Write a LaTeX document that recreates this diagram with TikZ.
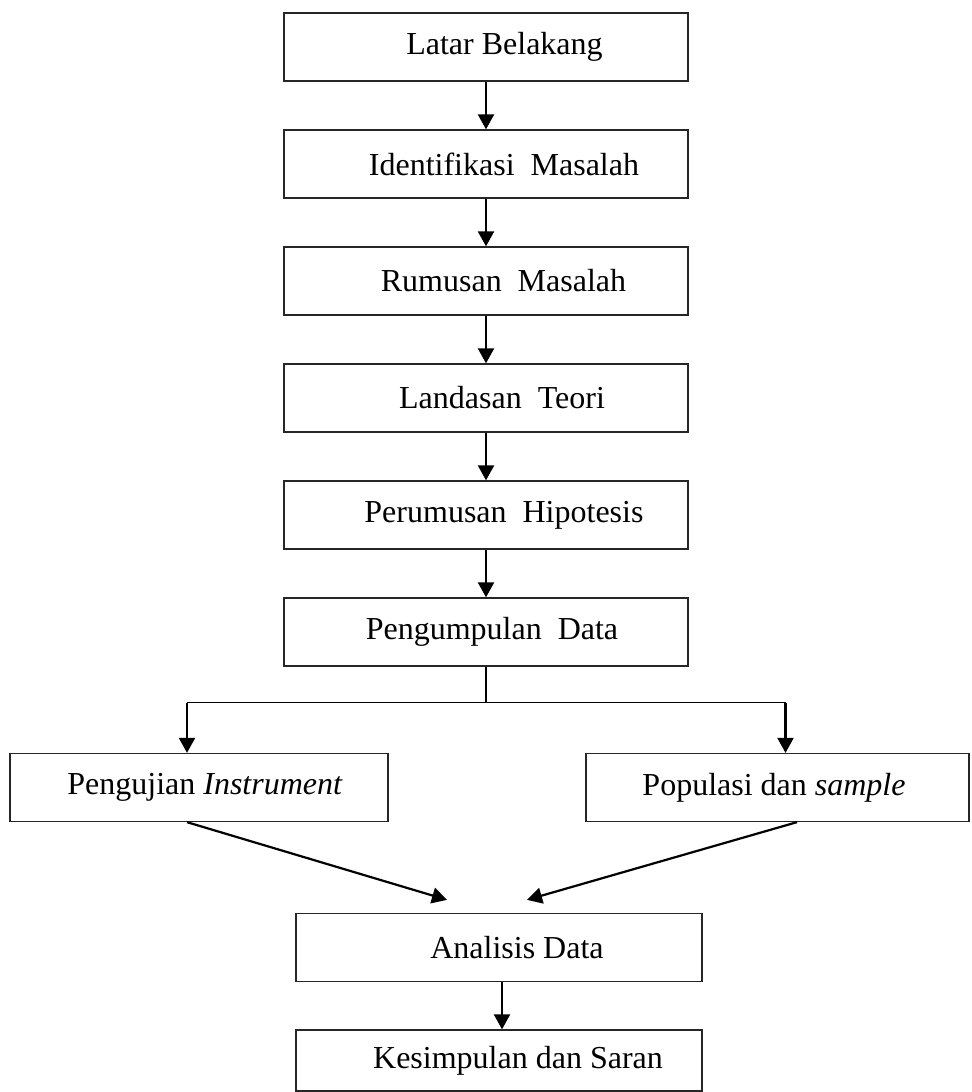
\documentclass[tikz,border=0pt]{standalone}
\usepackage{fontspec}
\setmainfont{Liberation Serif}
\usetikzlibrary{arrows.meta,positioning}
\newcommand{\widthbox}{202pt}
\newcommand{\heightbox}{34pt}
\newcommand{\stepdown}{58.5pt}

\begin{document}
\begin{tikzpicture}[x=0.5pt,y=-0.5pt,on grid,
		font=\fontsize{16pt}{19pt}\selectfont,
		box/.style={draw=black!85, line width=0.65pt, rectangle, minimum width=\widthbox, minimum height=\heightbox, inner sep=0pt},
		flow/.style={-{Triangle[length=7.5pt,width=8pt]}, line width=1.1pt},
		branch/.style={line width=0.7pt}]
		\useasboundingbox (0,0) rectangle (972,1092);
		\node[box] (latar) at (486,47) {\hspace*{18.5pt}Latar Belakang};
		\node[box] (identifikasi) [below=\stepdown of latar] {\hspace*{18pt}Identifikasi\ \ Masalah};
		\node[box] (rumusan) [below=\stepdown of identifikasi] {\hspace*{17.5pt}Rumusan\ \ Masalah};
		\node[box] (landasan) [below=\stepdown of rumusan] {\hspace*{16pt}Landasan\ \ Teori};
		\node[box] (hipotesis) [below=\stepdown of landasan] {\hspace*{18pt}Perumusan\ \ Hipotesis};
		\node[box] (pengumpulan) [below=\stepdown of hipotesis] {\hspace*{6pt}Pengumpulan\ \ Data};
		\node[box, minimum width=189pt] (pengujian) [below left=77.75pt and 143.5pt of pengumpulan] {\hspace*{6pt}Pengujian \textit{Instrument}};
		\node[box, minimum width=191.5pt] (populasi) [below right=77.75pt and 145.75pt of pengumpulan] {Populasi dan \textit{sample}\hspace*{3.5pt}};
		\node[box, minimum width=203pt] (analisis) [below=157.75pt of pengumpulan, xshift=6.5pt] {\hspace*{18pt}Analisis Data};
		\node[box, minimum width=203pt, minimum height=30.5pt] (kesimpulan) [below=56.5pt of analisis] {\hspace*{19pt}Kesimpulan dan Saran};
		% main chain
		\draw[flow] (latar) -- (identifikasi);
		\draw[flow] (identifikasi) -- (rumusan);
		\draw[flow] (rumusan) -- (landasan);
		\draw[flow] (landasan) -- (hipotesis);
		\draw[flow] (hipotesis) -- (pengumpulan);
		% split into two branches
		\coordinate[below=18pt of pengumpulan.south] (split);
		\coordinate[xshift=-6pt] (leftturn) at (pengujian.north |- split);
		\coordinate[xshift=4pt] (rightturn) at (populasi.north |- split);
		\draw[branch] (pengumpulan) -- (split);
		\draw[branch] (leftturn) -- (rightturn);
		\draw[flow] (leftturn) -- (leftturn |- pengujian.north);
		\draw[flow] (rightturn) -- (rightturn |- populasi.north);
		% join
		\draw[flow] ([xshift=-6pt]pengujian.south) -- ([xshift=-26pt,yshift=6.5pt]analisis.north);
		\draw[flow] ([xshift=9.75pt]populasi.south) -- ([xshift=14pt,yshift=6.5pt]analisis.north);
		\draw[flow] ([xshift=1.5pt]analisis.south) -- ([xshift=1.5pt]kesimpulan.north);
\end{tikzpicture}
\end{document}
